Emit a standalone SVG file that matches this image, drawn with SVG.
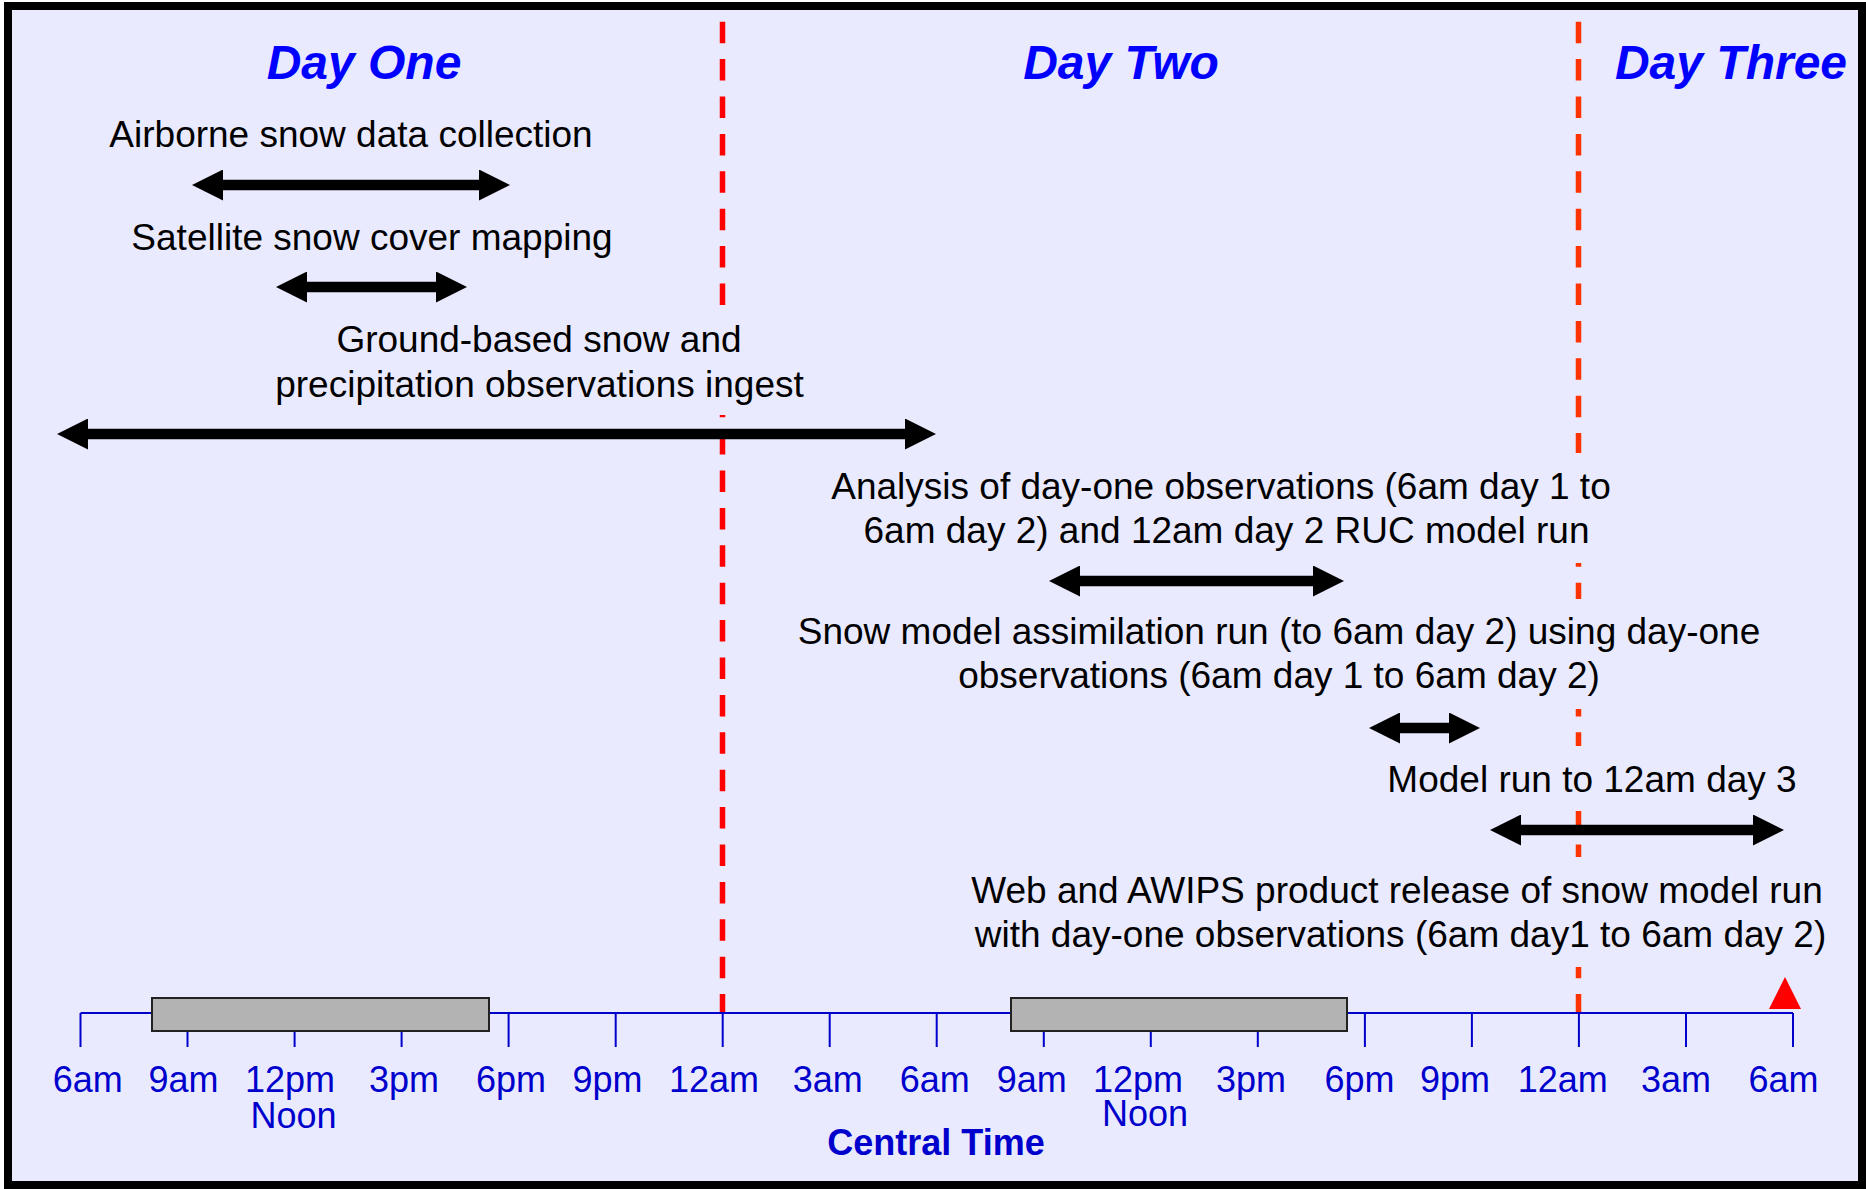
<svg xmlns="http://www.w3.org/2000/svg" width="1866" height="1189" viewBox="0 0 1866 1189">
  <style>
    text { font-family: "Liberation Sans", Arial, sans-serif; }
    .lbl { font-size: 37px; fill: #000; text-anchor: middle; }
    .day { font-size: 48px; font-weight: bold; font-style: italic; fill: #0000FF; text-anchor: middle; }
    .tk { font-size: 36px; fill: #0000CC; text-anchor: middle; }
    .ct { font-size: 36px; font-weight: bold; fill: #0000CC; text-anchor: middle; }
    .axis { stroke: #0000CC; stroke-width: 2; fill: none; }
    .arr { stroke: #000; stroke-width: 10.7; fill: none; marker-start: url(#ah); marker-end: url(#ah); }
    .box { fill: #B3B3B3; stroke: #222; stroke-width: 2; }
    .dash1 { stroke: #FF0000; stroke-width: 5.5; stroke-dasharray: 21.5 15.9; fill: none; }
    .dash2 { stroke: #FF3300; stroke-width: 5.5; stroke-dasharray: 21.5 15.9; fill: none; }
  </style>
  <defs>
    <marker id="ah" markerUnits="userSpaceOnUse" markerWidth="31" markerHeight="31" viewBox="0 0 31 31" refX="1" refY="15.5" orient="auto-start-reverse">
      <path d="M0,0 L31,15.5 L0,31 Z" fill="#000"/>
    </marker>
    <mask id="gaps" maskUnits="userSpaceOnUse" x="0" y="0" width="1866" height="1189">
      <rect x="0" y="0" width="1866" height="1189" fill="#fff"/>
      <rect x="690" y="305" width="70" height="110" fill="#000"/>
      <rect x="1550" y="453" width="60" height="110" fill="#000"/>
      <rect x="1550" y="599" width="60" height="110" fill="#000"/>
      <rect x="1550" y="746" width="60" height="65" fill="#000"/>
      <rect x="1550" y="857" width="60" height="110" fill="#000"/>
    </mask>
  </defs>

  <rect id="frame" x="8" y="6" width="1854" height="1179" fill="#EAEAFF" stroke="#000" stroke-width="8"/>

  <g id="day-dividers" mask="url(#gaps)">
    <line class="dash1" x1="722.5" y1="21.7" x2="722.5" y2="1013"/>
    <line class="dash2" x1="1578.5" y1="21.7" x2="1578.5" y2="1013"/>
  </g>

  <g id="day-one"><text class="day" x="364" y="79">Day One</text></g>
  <g id="day-two"><text class="day" x="1121" y="79">Day Two</text></g>
  <g id="day-three"><text class="day" x="1731" y="79">Day Three</text></g>

  <g id="airborne"><text class="lbl" x="351" y="147">Airborne snow data collection</text></g>
  <g id="satellite"><text class="lbl" x="372" y="249.5">Satellite snow cover mapping</text></g>
  <g id="ground">
    <text class="lbl" x="539" y="352">Ground-based snow and</text>
    <text class="lbl" x="539.5" y="397">precipitation observations ingest</text>
  </g>
  <g id="analysis">
    <text class="lbl" x="1221" y="499">Analysis of day-one observations (6am day 1 to</text>
    <text class="lbl" x="1226.5" y="542.5">6am day 2) and 12am day 2 RUC model run</text>
  </g>
  <g id="assimilation">
    <text class="lbl" x="1279" y="644">Snow model assimilation run (to 6am day 2) using day-one</text>
    <text class="lbl" x="1279" y="687.5">observations (6am day 1 to 6am day 2)</text>
  </g>
  <g id="model-run"><text class="lbl" x="1592" y="792">Model run to 12am day 3</text></g>
  <g id="release">
    <text class="lbl" x="1397" y="902.5">Web and AWIPS product release of snow model run</text>
    <text class="lbl" x="1400.5" y="947">with day-one observations (6am day1 to 6am day 2)</text>
  </g>

  <g id="connectors">
    <line class="arr" x1="222" y1="185" x2="480" y2="185"/>
    <line class="arr" x1="306" y1="287" x2="437" y2="287"/>
    <line class="arr" x1="87" y1="434" x2="906" y2="434"/>
    <line class="arr" x1="1079" y1="581" x2="1314" y2="581"/>
    <line class="arr" x1="1399" y1="728" x2="1450" y2="728"/>
    <line class="arr" x1="1520" y1="830" x2="1754" y2="830"/>
  </g>

  <g id="time-axis">
    <path class="axis" d="M80.5,1013 H1793
      M80.5,1013 V1047 M187.5,1013 V1047 M294.6,1013 V1047 M401.6,1013 V1047 M508.6,1013 V1047 M615.7,1013 V1047 M722.7,1013 V1047 M829.7,1013 V1047 M936.7,1013 V1047 M1043.8,1013 V1047 M1150.8,1013 V1047 M1257.8,1013 V1047 M1364.9,1013 V1047 M1471.9,1013 V1047 M1578.9,1013 V1047 M1686,1013 V1047 M1793,1013 V1047"/>
    <rect class="box" x="152" y="998" width="337" height="33"/>
    <rect class="box" x="1011" y="998" width="336" height="33"/>
    <polygon points="1769,1009 1801,1009 1785,977" fill="#FF0000"/>
    <text class="tk" x="87.7" y="1091.5">6am</text>
    <text class="tk" x="183.5" y="1091.5">9am</text>
    <text class="tk" x="290" y="1091.5">12pm</text>
    <text class="tk" x="404" y="1091.5">3pm</text>
    <text class="tk" x="511" y="1091.5">6pm</text>
    <text class="tk" x="607.6" y="1091.5">9pm</text>
    <text class="tk" x="714" y="1091.5">12am</text>
    <text class="tk" x="827.7" y="1091.5">3am</text>
    <text class="tk" x="934.7" y="1091.5">6am</text>
    <text class="tk" x="1031.7" y="1091.5">9am</text>
    <text class="tk" x="1138" y="1091.5">12pm</text>
    <text class="tk" x="1251" y="1091.5">3pm</text>
    <text class="tk" x="1359.6" y="1091.5">6pm</text>
    <text class="tk" x="1455" y="1091.5">9pm</text>
    <text class="tk" x="1562.7" y="1091.5">12am</text>
    <text class="tk" x="1676" y="1091.5">3am</text>
    <text class="tk" x="1783.6" y="1091.5">6am</text>
    <text class="tk" x="293.5" y="1128">Noon</text>
    <text class="tk" x="1145" y="1126">Noon</text>
    <text class="ct" x="936" y="1155">Central Time</text>
  </g>
</svg>
